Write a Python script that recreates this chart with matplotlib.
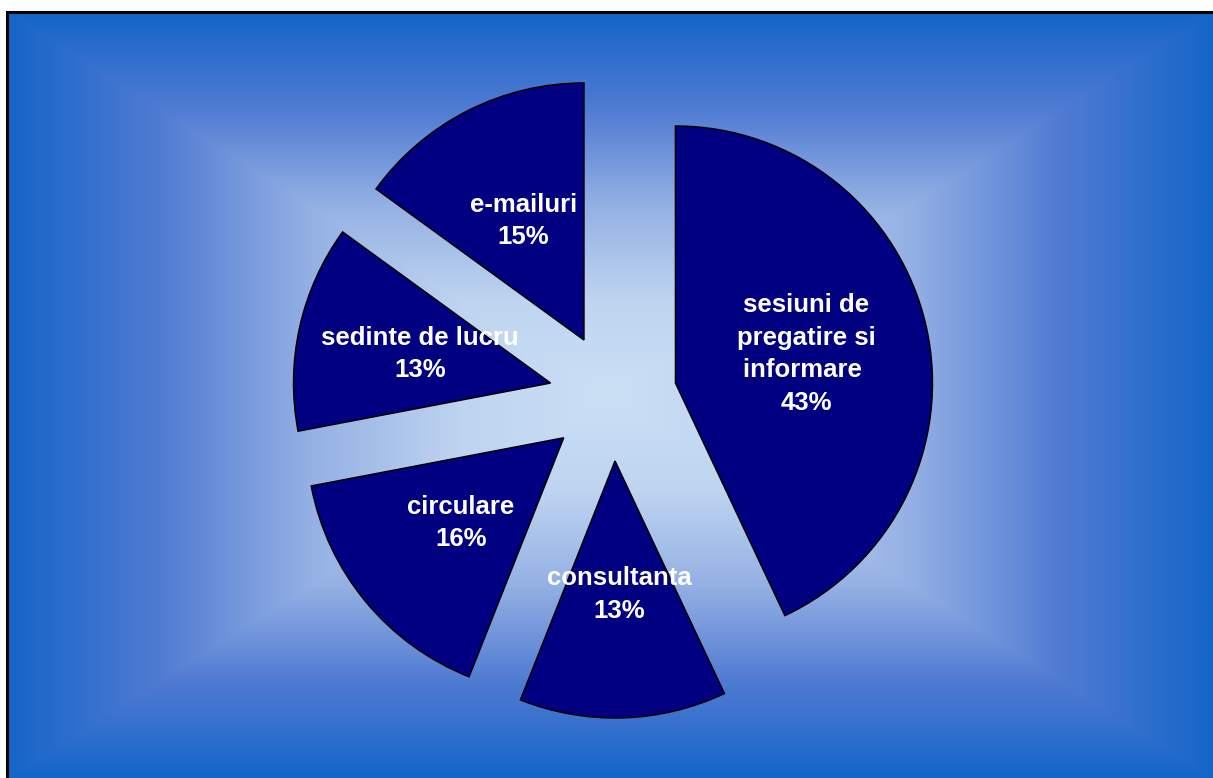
import matplotlib
matplotlib.use("Agg")
import matplotlib.pyplot as plt
import matplotlib.patches as mpatches
import numpy as np

# data
categorii = ["sesiuni de\npregatire si\ninformare ", "consultanta", "circulare",
             "sedinte de lucru", "e-mailuri"]
procente = [43, 13, 16, 13, 15]

W, H = 1213, 778
fig = plt.figure(figsize=(W / 100, H / 100), dpi=100)
fig.patch.set_facecolor("white")
ax = fig.add_axes([0, 0, 1, 1])

# rectangular "from center" gradient background
x0, x1 = 8, 1213
y0, y1 = 0, 765
nx, ny = 600, 380
gx = np.linspace(-1, 1, nx)
gy = np.linspace(-1, 1, ny)
GX, GY = np.meshgrid(gx, gy)
t = np.maximum(np.abs(GX), np.abs(GY))
stops_t = [0.0, 0.25, 0.5, 0.75, 1.0]
stops_c = np.array([(204, 224, 245), (190, 212, 240), (148, 176, 228),
                    (80, 123, 211), (21, 101, 200)]) / 255.0
img = np.zeros((ny, nx, 3))
for k in range(3):
    img[..., k] = np.interp(t, stops_t, stops_c[:, k])
ax.imshow(img, extent=[x0, x1, y0, y1], origin="lower", interpolation="bilinear",
          zorder=0, aspect="auto")
ax.add_patch(mpatches.Rectangle((x0 - 1, y0 - 20), x1 - x0 + 40, y1 - y0 + 21,
                                fill=False, edgecolor="black", linewidth=2.2, zorder=1))

cx, cy, r = 613, H - 397, 257

labels_txt = [c + "\n%d%%" % p for c, p in zip(categorii, procente)]
wedges, texts = ax.pie(procente, labels=labels_txt, startangle=90, counterclock=False,
                       explode=[64] * len(procente), radius=r, center=(cx, cy),
                       labeldistance=0.52, colors=["#000080"] * len(procente),
                       wedgeprops=dict(edgecolor="black", linewidth=1.1),
                       textprops=dict(color="white", fontsize=18.5, fontweight="bold",
                                      family="Liberation Sans", linespacing=1.45),
                       frame=True)
for tx in texts:
    tx.set_horizontalalignment("center")
    tx.set_verticalalignment("center")
    tx.set_zorder(5)

ax.set_xlim(0, W)
ax.set_ylim(0, H)
ax.set_aspect("auto")
ax.axis("off")

fig.savefig("out.png", dpi=100, facecolor="white")
